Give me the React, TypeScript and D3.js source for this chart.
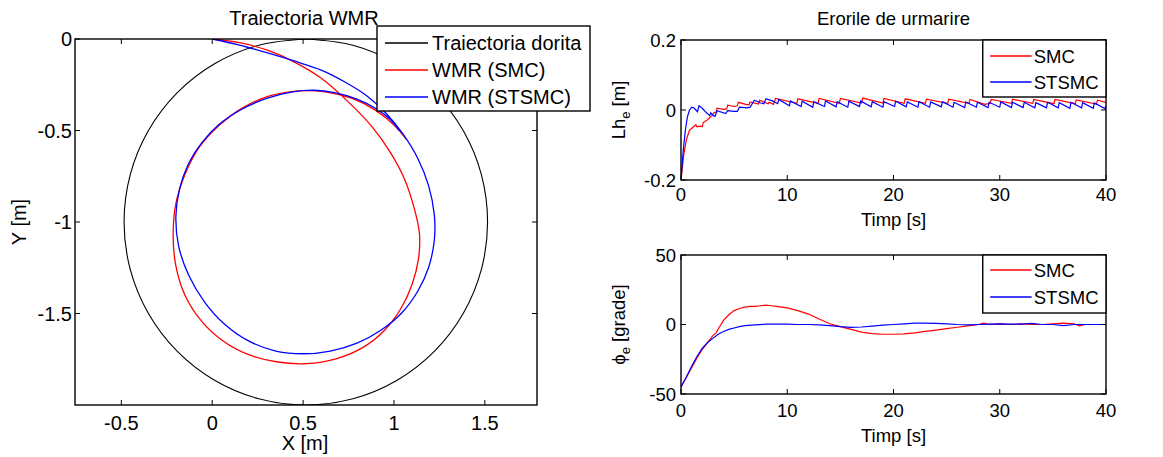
import React from "react";
import * as d3 from "d3";

// ---------- DATA ----------
// Left plot: X/Y trajectories [x, y] in metres
const desiredTraj: [number, number][] = [
  [0.515, 0], [0.774, -0.034], [1.015, -0.134], [1.222, -0.293], [1.381, -0.5], [1.481, -0.741],
  [1.515, -1], [1.481, -1.259], [1.381, -1.5], [1.222, -1.707], [1.015, -1.866], [0.774, -1.966],
  [0.515, -2], [0.256, -1.966], [0.015, -1.866], [-0.192, -1.707], [-0.351, -1.5], [-0.451, -1.259],
  [-0.485, -1], [-0.451, -0.741], [-0.351, -0.5], [-0.192, -0.293], [0.015, -0.134], [0.256, -0.034],
  [0.515, 0],
];
const smcTraj: [number, number][] = [
  [0, 0], [0.15, -0.02], [0.3, -0.06], [0.45, -0.125], [0.6, -0.215], [0.75, -0.345], [0.88, -0.48],
  [0.98, -0.62], [1.06, -0.77], [1.11, -0.92], [1.14, -1.06], [1.135, -1.2], [1.1, -1.34], [1.04, -1.47],
  [0.95, -1.59], [0.83, -1.685], [0.68, -1.748], [0.52, -1.774], [0.36, -1.765], [0.2, -1.725],
  [0.06, -1.65], [-0.06, -1.54], [-0.15, -1.4], [-0.2, -1.24], [-0.215, -1.07], [-0.2, -0.9],
  [-0.15, -0.74], [-0.07, -0.59], [0.04, -0.47], [0.17, -0.375], [0.32, -0.31], [0.48, -0.283],
  [0.63, -0.29], [0.77, -0.325], [0.9, -0.39], [1.0, -0.47], [1.07, -0.55],
];
const stsmcTraj: [number, number][] = [
  [0, 0], [0.15, -0.033], [0.3, -0.075], [0.45, -0.12], [0.6, -0.17], [0.73, -0.235], [0.85, -0.31],
  [0.96, -0.41], [1.05, -0.52], [1.13, -0.65], [1.19, -0.8], [1.222, -0.96], [1.222, -1.1], [1.19, -1.25],
  [1.13, -1.38], [1.04, -1.5], [0.93, -1.59], [0.8, -1.66], [0.65, -1.705], [0.5, -1.72], [0.35, -1.705],
  [0.2, -1.65], [0.07, -1.56], [-0.04, -1.44], [-0.13, -1.29], [-0.185, -1.13], [-0.2, -0.97],
  [-0.18, -0.82], [-0.13, -0.68], [-0.06, -0.57], [0.04, -0.465], [0.16, -0.385], [0.3, -0.325],
  [0.45, -0.288], [0.56, -0.28], [0.68, -0.295], [0.8, -0.33], [0.9, -0.38], [0.98, -0.44], [1.03, -0.5],
];

// Right-top plot: Lh_e [m] vs time [s]
const lhSmc: [number, number][] = [
  [0, -0.2], [0.25, -0.13], [0.5, -0.085], [0.8, -0.058], [1.1, -0.05], [1.4, -0.042], [1.5, -0.048],
  [1.8, -0.046], [2.0, -0.048], [2.1, -0.036], [2.5, -0.028], [2.9, -0.016], [3.1, -0.008], [3.3, -0.006],
  [3.4, 0.005], [4.0, 0.002], [4.3, 0.003], [4.4, 0.014], [5.0, 0.010], [5.3, 0.012], [5.4, 0.022],
  [6.1, 0.016], [6.4, 0.015], [6.5, 0.023], [7.3, 0.017], [7.4, 0.028], [8.2, 0.018], [8.3, 0.022],
  [8.7, 0.016], [8.9, 0.033], [10.9, 0.019], [11.0, 0.032], [12.9, 0.019], [13.0, 0.033], [14.9, 0.019],
  [15.0, 0.033], [17.0, 0.020], [17.1, 0.034], [19.0, 0.020], [19.1, 0.033], [21.0, 0.019], [21.1, 0.032],
  [23.0, 0.019], [23.1, 0.031], [25.1, 0.019], [25.2, 0.031], [27.1, 0.019], [27.2, 0.030], [28.6, 0.016],
  [29.1, 0.019], [29.2, 0.030], [31.1, 0.019], [31.2, 0.031], [33.1, 0.019], [33.2, 0.030], [35.1, 0.018],
  [35.2, 0.030], [37.1, 0.018], [37.2, 0.029], [39.1, 0.017], [39.2, 0.028], [40, 0.022],
];
const lhStsmc: [number, number][] = [
  [0, -0.2], [0.2, -0.12], [0.4, -0.06], [0.6, -0.02], [0.8, 0.0], [1.0, 0.008], [1.2, 0.006], [1.4, 0.0],
  [1.55, -0.005], [1.7, 0.012], [2.0, 0.005], [2.4, -0.008], [2.7, -0.016], [2.8, -0.008], [3.0, -0.015],
  [3.2, -0.018], [3.4, -0.002], [4.2, -0.01], [4.4, -0.002], [5.0, -0.004], [5.3, -0.004], [5.5, 0.008],
  [6.2, 0.006], [6.5, 0.008], [6.9, 0.028], [7.5, 0.02], [7.8, 0.018], [8.0, 0.032], [8.6, 0.026],
  [9.1, 0.018], [9.2, 0.03], [10.2, 0.012], [10.3, 0.026], [11.3, 0.01], [11.4, 0.025], [12.4, 0.008],
  [12.5, 0.024], [13.5, 0.01], [13.6, 0.026], [14.6, 0.009], [14.7, 0.024], [15.7, 0.008], [15.8, 0.025],
  [16.8, 0.01], [16.9, 0.026], [17.9, 0.009], [18.0, 0.024], [19.0, 0.008], [19.1, 0.024], [20.1, 0.01],
  [20.2, 0.025], [21.2, 0.009], [21.3, 0.023], [22.3, 0.008], [22.4, 0.024], [23.4, 0.008], [23.5, 0.023],
  [24.5, 0.009], [24.6, 0.024], [25.6, 0.008], [25.7, 0.022], [26.7, 0.007], [26.8, 0.023], [27.8, 0.008],
  [27.9, 0.022], [28.9, 0.007], [29.0, 0.022], [30.0, 0.008], [30.1, 0.023], [31.1, 0.007], [31.2, 0.022],
  [32.2, 0.007], [32.3, 0.022], [33.3, 0.006], [33.4, 0.021], [34.4, 0.006], [34.5, 0.022], [35.5, 0.006],
  [35.6, 0.021], [36.6, 0.005], [36.7, 0.022], [37.7, 0.006], [37.8, 0.021], [38.8, 0.005], [38.9, 0.02],
  [39.9, 0.004], [40, 0.012],
];

// Right-bottom plot: phi_e [grade] vs time [s]
const phiSmc: [number, number][] = [
  [0, -45], [0.5, -38], [1, -31], [1.5, -24], [2, -18], [2.5, -13], [3, -8], [3.3, -6], [3.6, -2], [4, 3],
  [4.5, 7], [5, 10], [5.5, 11.5], [6, 12.5], [6.5, 13], [7, 13], [7.5, 13.5], [8, 14], [8.5, 13.5], [9, 13],
  [9.5, 12.5], [10, 12], [11, 10], [12, 7.5], [13, 4], [14, 0.5], [15, -1.5], [16, -3.5], [17, -5.5],
  [18, -6.5], [19, -7], [20, -7], [21, -6.8], [22, -6], [23, -5], [24, -4], [25, -3], [26, -2], [27, -1],
  [28, 0], [28.5, 1], [29, 0], [30, 0.5], [31, 0], [32, 0.5], [33, 0], [34, 0], [35, 0.5], [36, 1],
  [37, 0.5], [37.5, -1], [38, 0], [39, 0], [40, 0],
];
const phiStsmc: [number, number][] = [
  [0, -45], [0.5, -38], [1, -30], [1.5, -23], [2, -17], [2.5, -13], [3, -10], [3.5, -7], [4, -5],
  [4.5, -3.5], [5, -2.5], [5.5, -1.5], [6, -0.8], [7, -0.3], [8, 0.2], [9, 0.2], [10, 0.3], [11, 0],
  [12, 0], [13, -0.3], [14, -0.8], [15, -1.5], [16, -2], [17, -1.8], [18, -1.2], [19, -0.5], [20, 0],
  [21, 0.5], [22, 1], [23, 1], [24, 0.8], [25, 0.5], [26, 0], [27, -0.3], [28, 0], [29, 0.3], [30, 0.5],
  [31, 0.3], [32, 0.3], [33, 0.8], [34, 0], [35, 0], [36, -0.8], [37, 0], [38, 0], [39, 0], [40, 0],
];

const xyXTicks = [-0.5, 0, 0.5, 1, 1.5];
const xyYTicks = [0, -0.5, -1, -1.5];
const timeTicks = [0, 10, 20, 30, 40];
const lhTicks = [-0.2, 0, 0.2];
const phiTicks = [-50, 0, 50];

const FONT = "Arial, 'Liberation Sans', Helvetica, sans-serif";
const RED = "#ff0000";
const BLUE = "#0000ff";

type Scale = d3.ScaleLinear<number, number>;

function Frame({ x, y, xTicks, yTicks, fs, xOff, yGap }: {
  x: Scale; y: Scale; xTicks: number[]; yTicks: number[]; fs: number; xOff: number; yGap: number;
}) {
  const [x0, x1] = x.range();
  const [y0, y1] = y.range(); // y0 bottom, y1 top
  const tl = 5;
  const fmt = (v: number) => String(v);
  return (
    <g>
      {xTicks.map((t) => (
        <g key={"x" + t}>
          <line x1={x(t)} x2={x(t)} y1={y0} y2={y0 - tl} stroke="#000" />
          <line x1={x(t)} x2={x(t)} y1={y1} y2={y1 + tl} stroke="#000" />
          <text x={x(t)} y={y0 + xOff} textAnchor="middle" fontSize={fs} fontFamily={FONT}>{fmt(t)}</text>
        </g>
      ))}
      {yTicks.map((t) => (
        <g key={"y" + t}>
          <line x1={x0} x2={x0 + tl} y1={y(t)} y2={y(t)} stroke="#000" />
          <line x1={x1} x2={x1 - tl} y1={y(t)} y2={y(t)} stroke="#000" />
          <text x={x0 - yGap} y={y(t) + fs * 0.36} textAnchor="end" fontSize={fs} fontFamily={FONT}>{fmt(t)}</text>
        </g>
      ))}
      <rect x={x0} y={y1} width={x1 - x0} height={y0 - y1} fill="none" stroke="#000" strokeWidth={1.4} />
    </g>
  );
}

function Legend({ x, y, w, h, items, fs, lx0, lx1, tx, rows }: {
  x: number; y: number; w: number; h: number; items: { label: string; color: string }[];
  fs: number; lx0: number; lx1: number; tx: number; rows: number[];
}) {
  return (
    <g>
      <rect x={x} y={y} width={w} height={h} fill="#fff" stroke="#000" strokeWidth={1.4} />
      {items.map((it, i) => (
        <g key={it.label}>
          <line x1={lx0} x2={lx1} y1={rows[i]} y2={rows[i]} stroke={it.color} strokeWidth={1.3} />
          <text x={tx} y={rows[i] + fs * 0.36} fontSize={fs} fontFamily={FONT}>{it.label}</text>
        </g>
      ))}
    </g>
  );
}

export default function App() {
  // Left plot scales
  const xL = d3.scaleLinear().domain([-0.755, 1.787]).range([75, 537]);
  const yL = d3.scaleLinear().domain([-2, 0]).range([405, 39]);
  const smooth = d3.line<[number, number]>().x((d) => xL(d[0])).y((d) => yL(d[1])).curve(d3.curveCatmullRom);

  // Right plots
  const xR = d3.scaleLinear().domain([0, 40]).range([681, 1106]);
  const yT = d3.scaleLinear().domain([-0.2, 0.2]).range([180, 40]);
  const yB = d3.scaleLinear().domain([-50, 50]).range([394, 255]);
  const lineT = d3.line<[number, number]>().x((d) => xR(d[0])).y((d) => yT(d[1]));
  const lineB = d3.line<[number, number]>().x((d) => xR(d[0])).y((d) => yB(d[1]));

  const fsL = 20;
  const fsR = 18.5;
  const midR = (xR.range()[0] + xR.range()[1]) / 2;
  return (
    <svg width={1163} height={457} style={{ position: "absolute", left: 0, top: 0, background: "#fff" }}>
      <rect x={0} y={0} width={1163} height={457} fill="#fff" />
      <defs>
        <clipPath id="clipL"><rect x={75} y={39} width={462} height={366} /></clipPath>
        <clipPath id="clipT"><rect x={681} y={40} width={425} height={140} /></clipPath>
        <clipPath id="clipB"><rect x={681} y={255} width={425} height={139} /></clipPath>
      </defs>

      {/* ---------- Left plot ---------- */}
      <g clipPath="url(#clipL)">
        <path d={smooth(desiredTraj) || ""} fill="none" stroke="#000" strokeWidth={1.1} />
        <path d={smooth(smcTraj) || ""} fill="none" stroke={RED} strokeWidth={1.3} />
        <path d={smooth(stsmcTraj) || ""} fill="none" stroke={BLUE} strokeWidth={1.3} />
      </g>
      <Frame x={xL} y={yL} xTicks={xyXTicks} yTicks={xyYTicks} fs={fsL} xOff={25} yGap={3} />
      <text x={304} y={25} textAnchor="middle" fontSize={fsL} fontFamily={FONT}>Traiectoria WMR</text>
      <text x={305} y={450} textAnchor="middle" fontSize={fsL} fontFamily={FONT}>X [m]</text>
      <text transform={`translate(26,${yL(-1)}) rotate(-90)`} textAnchor="middle" fontSize={fsL} fontFamily={FONT}>Y [m]</text>
      <Legend x={377} y={26} w={213} h={85} fs={fsL} lx0={385} lx1={428} tx={432} rows={[43, 70, 97]}
        items={[{ label: "Traiectoria dorita", color: "#000" }, { label: "WMR (SMC)", color: RED }, { label: "WMR (STSMC)", color: BLUE }]} />

      {/* ---------- Right top ---------- */}
      <g clipPath="url(#clipT)">
        <path d={lineT(lhSmc) || ""} fill="none" stroke={RED} strokeWidth={1.2} />
        <path d={lineT(lhStsmc) || ""} fill="none" stroke={BLUE} strokeWidth={1.2} />
      </g>
      <Frame x={xR} y={yT} xTicks={timeTicks} yTicks={lhTicks} fs={fsR} xOff={21} yGap={5} />
      <text x={midR} y={25} textAnchor="middle" fontSize={fsR} fontFamily={FONT}>Erorile de urmarire</text>
      <text x={midR} y={226} textAnchor="middle" fontSize={fsR} fontFamily={FONT}>Timp [s]</text>
      <text transform={`translate(625,${yT(0)}) rotate(-90)`} textAnchor="middle" fontSize={fsR} fontFamily={FONT}>
        Lh<tspan dy={5} fontSize={13}>e</tspan><tspan dy={-5}> [m]</tspan>
      </text>
      <Legend x={xR(28.4)} y={40} w={xR(40) - xR(28.4)} h={57} fs={fsR} lx0={xR(29.1)} lx1={xR(33)} tx={xR(33.2)} rows={[56, 82]}
        items={[{ label: "SMC", color: RED }, { label: "STSMC", color: BLUE }]} />

      {/* ---------- Right bottom ---------- */}
      <g clipPath="url(#clipB)">
        <path d={lineB(phiSmc) || ""} fill="none" stroke={RED} strokeWidth={1.2} />
        <path d={lineB(phiStsmc) || ""} fill="none" stroke={BLUE} strokeWidth={1.2} />
      </g>
      <Frame x={xR} y={yB} xTicks={timeTicks} yTicks={phiTicks} fs={fsR} xOff={23} yGap={5} />
      <text x={midR} y={442} textAnchor="middle" fontSize={fsR} fontFamily={FONT}>Timp [s]</text>
      <text transform={`translate(625,${yB(0)}) rotate(-90)`} textAnchor="middle" fontSize={fsR} fontFamily={FONT}>
        ϕ<tspan dy={5} fontSize={13}>e</tspan><tspan dy={-5}> [grade]</tspan>
      </text>
      <Legend x={xR(28.4)} y={255} w={xR(40) - xR(28.4)} h={58} fs={fsR} lx0={xR(29.1)} lx1={xR(33)} tx={xR(33.2)} rows={[270, 297]}
        items={[{ label: "SMC", color: RED }, { label: "STSMC", color: BLUE }]} />
    </svg>
  );
}
